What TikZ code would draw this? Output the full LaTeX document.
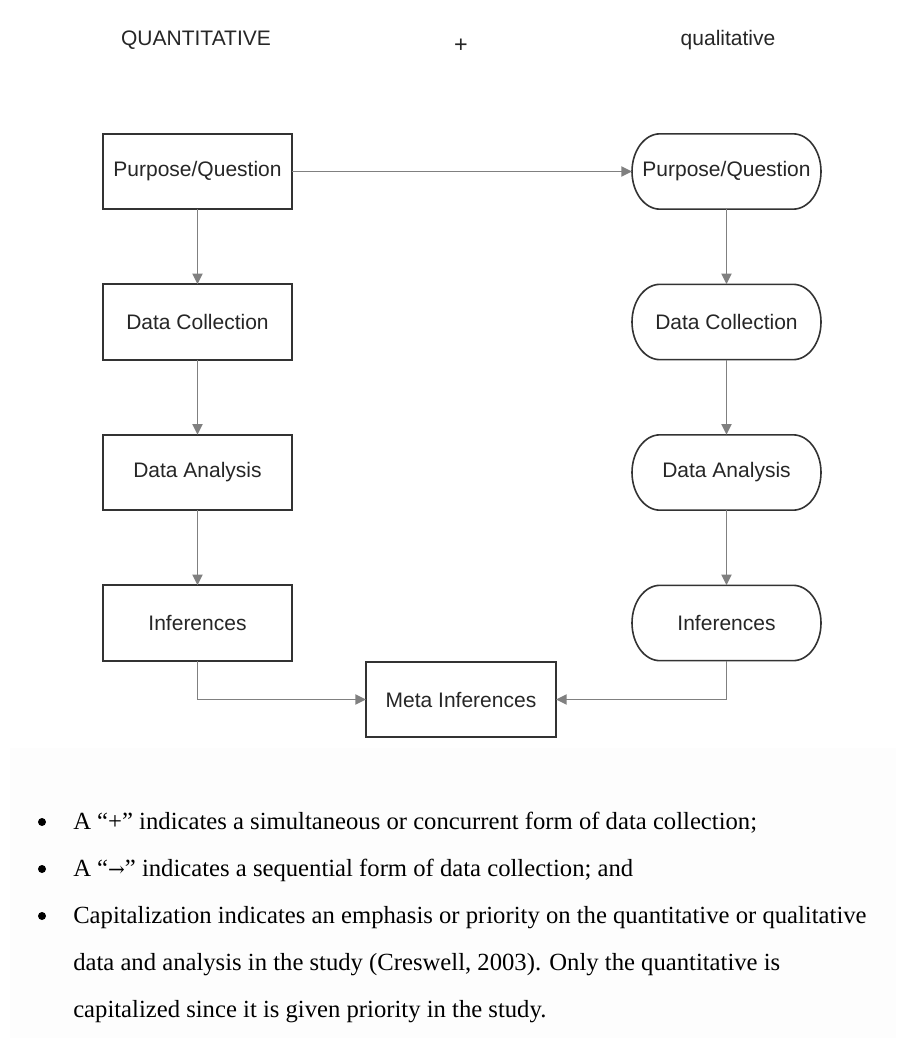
\documentclass[tikz,border=0pt]{standalone}
\usepackage{fontspec}
\setmainfont{Liberation Serif}
\newfontfamily\diagfont{Liberation Sans}
\newfontfamily\arrowfont{DejaVu Serif}
\usetikzlibrary{arrows.meta}
\definecolor{boxcol}{HTML}{333333}
\definecolor{arrcol}{HTML}{808080}
\definecolor{faint}{HTML}{FDFDFD}
\tikzset{
  base/.style={inner sep=0pt, outer sep=0pt, minimum width=141.75pt, minimum height=56.5pt,
    font=\diagfont\fontsize{15.75}{18}\selectfont, text=black!85},
  sqbox/.style={base, draw=boxcol, line width=1.3pt},
  rdbox/.style={base},
  boxline/.style={draw=boxcol, line width=1.2pt},
  arr/.style={draw=arrcol, line width=1.4pt, -{Triangle[length=8pt,width=7.5pt]}},
  head/.style={font=\diagfont\fontsize{15.75}{18}\selectfont, text=black!85},
  bullettext/.style={anchor=base west, inner sep=0pt, font=\fontsize{18.5}{22}\selectfont, text=black},
  bulletdot/.style={circle, fill=black, inner sep=0pt, minimum size=6pt}
}
\newcommand\stadiumdraw[1]{%
  \draw[boxline] ([xshift=21pt]#1.north west) -- ([xshift=-21pt]#1.north east)
    arc[start angle=90, end angle=-90, x radius=21pt, y radius=28.25pt]
    -- ([xshift=21pt]#1.south west)
    arc[start angle=270, end angle=90, x radius=21pt, y radius=28.25pt] -- cycle;}
\begin{document}
\begin{tikzpicture}[x=0.75pt, y=0.75pt]
\useasboundingbox (0,0) rectangle (896,-1038);
\fill[white] (0,0) rectangle (896,-1038);
\fill[faint] (10,-748) rectangle (896,-1038);

% headers
\node[head] (hq) at (196,-40) {QUANTITATIVE};
\node[head, font=\diagfont\fontsize{17.5}{18}\selectfont] (hp) at (461,-46) {+};
\node[head] (hl) at (728,-40) {qualitative};

% left column
\node[sqbox] (lp) at (197.5,-171.5) {Purpose/Question};
\node[sqbox] (ld) at (197.5,-322) {Data Collection};
\node[sqbox] (la) at (197.5,-472.5) {Data Analysis};
\node[sqbox] (li) at (197.5,-623) {Inferences};

% right column
\node[rdbox] (rp) at (726.5,-171.5) {Purpose/Question};
\node[rdbox] (rd) at (726.5,-322) {Data Collection};
\node[rdbox] (ra) at (726.5,-472.5) {Data Analysis};
\node[rdbox] (ri) at (726.5,-623) {Inferences};
\stadiumdraw{rp}
\stadiumdraw{rd}
\stadiumdraw{ra}
\stadiumdraw{ri}

% meta
\node[sqbox, minimum width=142.5pt] (mi) at (461,-699.5) {Meta Inferences};

% connectors
\draw[arr] (lp.east) -- (rp.west);
\draw[arr] (lp.south) -- (ld.north);
\draw[arr] (ld.south) -- (la.north);
\draw[arr] (la.south) -- (li.north);
\draw[arr] (rp.south) -- (rd.north);
\draw[arr] (rd.south) -- (ra.north);
\draw[arr] (ra.south) -- (ri.north);
\draw[arr] (li.south) |- (mi.west);
\draw[arr] (ri.south) |- (mi.east);

% bullets
\node[bulletdot] (b1) at (42,-822) {};
\node[bullettext] (t1) at (73,-829) {A “+” indicates a simultaneous or concurrent form of data collection;};
\node[bulletdot] (b2) at (42,-869) {};
\node[bullettext] (t2) at (73,-876) {A “{\arrowfont\fontsize{15}{18}\selectfont →}” indicates a sequential form of data collection; and};
\node[bulletdot] (b3) at (42,-916) {};
\node[bullettext] (t3) at (73,-923) {Capitalization indicates an emphasis or priority on the quantitative or qualitative};
\node[bullettext] (t4) at (73,-970) {data and analysis in the study (Creswell, 2003). Only the quantitative is};
\node[bullettext] (t5) at (73,-1017) {capitalized since it is given priority in the study.};
\end{tikzpicture}
\end{document}
